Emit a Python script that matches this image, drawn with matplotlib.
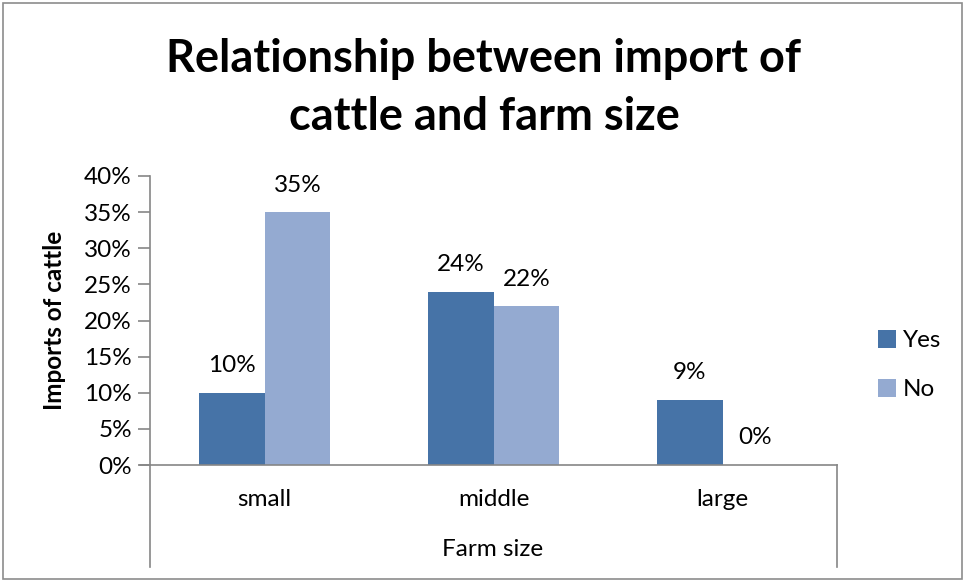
import matplotlib
matplotlib.use("Agg")
import matplotlib.pyplot as plt
from matplotlib.patches import Rectangle
from matplotlib.lines import Line2D
import numpy as np

categories = ["small", "middle", "large"]
yes_vals = [0.10, 0.24, 0.09]
no_vals = [0.35, 0.22, 0.00]
series_names = ["Yes", "No"]
y_ticks = [0, 0.05, 0.10, 0.15, 0.20, 0.25, 0.30, 0.35, 0.40]

plt.rcParams["font.family"] = ["Lato", "DejaVu Sans"]

W, H = 964, 581
fs = 17.5
fig = plt.figure(figsize=(W / 100, H / 100), dpi=100)

# рамка вокруг всей диаграммы
fig.patches.append(Rectangle((3 / W, 2 / H), 959 / W, 576 / H, transform=fig.transFigure,
                             fill=False, edgecolor="#8c8c8c", linewidth=1.2))

ax = fig.add_axes([150 / W, 1 - 465 / H, (837 - 150) / W, (465 - 176) / H])

x = np.arange(len(categories))
bw = 0.288
axis_col = "#868686"
ax.bar(x - bw / 2, yes_vals, bw, color="#4673A7", label=series_names[0])
ax.bar(x + bw / 2, no_vals, bw, color="#94AAD1", label=series_names[1])

for xi, v in zip(x, yes_vals):
    ax.annotate(f"{v:.0%}", (xi - bw / 2, v), xytext=(0, 27), textcoords="offset pixels",
                ha="center", va="center", fontsize=fs)
for xi, v in zip(x, no_vals):
    ax.annotate(f"{v:.0%}", (xi + bw / 2, v), xytext=(0, 27), textcoords="offset pixels",
                ha="center", va="center", fontsize=fs)

ax.set_xlim(-0.5, 2.5)
ax.set_ylim(0, 0.40)
ax.set_yticks(y_ticks)
ax.set_yticklabels([f"{t:.0%}" for t in y_ticks], fontsize=fs)
ax.set_xticks(x)
ax.set_xticklabels(categories, fontsize=fs)
ax.tick_params(axis="y", length=9, color=axis_col, width=1.2, pad=4)
ax.tick_params(axis="x", length=0, pad=17)
for s in ["top", "right"]:
    ax.spines[s].set_visible(False)
ax.spines["left"].set_color(axis_col)
ax.spines["bottom"].set_color(axis_col)
ax.spines["left"].set_linewidth(1.2)
ax.spines["bottom"].set_linewidth(1.2)
ax.spines["bottom"].set_bounds(-0.5 - 10 / 229, 2.5)

# длинные линии вниз по краям оси категорий
for xe in [150, 837]:
    fig.add_artist(Line2D([xe / W, xe / W], [1 - 465 / H, 1 - 567 / H],
                          transform=fig.transFigure, color=axis_col, linewidth=1.2))

fig.text(493 / W, 1 - 549 / H, "Farm size", ha="center", va="center", fontsize=fs)
fig.text(55 / W, 1 - 320 / H, "Imports of cattle", rotation=90, ha="center", va="center",
         fontsize=fs, fontweight="bold")

fig.text(484 / W, 1 - 88 / H, "Relationship between import of\ncattle and farm size",
         ha="center", va="center", fontsize=32.5, fontweight="bold", linespacing=1.5)

leg = fig.legend(loc="upper left", bbox_to_anchor=(868 / W, 1 - 320 / H), frameon=False,
                 fontsize=fs, handlelength=0.75, handleheight=0.75, handletextpad=0.3,
                 labelspacing=1.15, borderaxespad=0)

fig.savefig("out.png", dpi=100)
